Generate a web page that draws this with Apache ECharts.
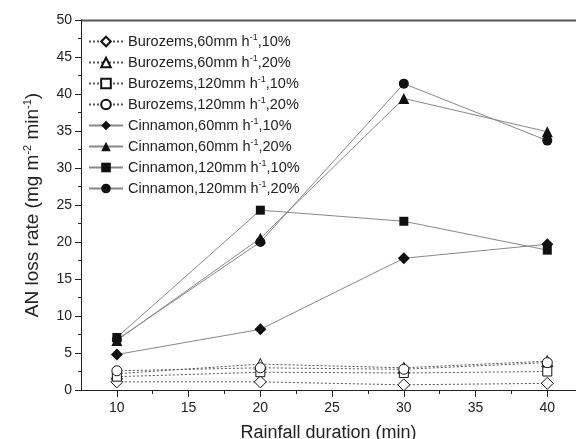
<!DOCTYPE html>
<html>
<head>
<meta charset="utf-8">
<script src="https://cdn.jsdelivr.net/npm/echarts@6/dist/echarts.min.js"></script>
<style>
  html, body { margin: 0; padding: 0; background: #fff; }
  #chart { width: 576px; height: 439px; }
</style>
</head>
<body>
<div id="chart"></div>
<script>
// rainfall duration (min)
const durations = [10, 20, 30, 40];
const majorTicks = [10, 15, 20, 25, 30, 35, 40];
const minorTicks = [12.5, 17.5, 22.5, 27.5, 32.5, 37.5];

// AN loss rate, mg m-2 min-1
const buro60_10 = [1.1, 1.1, 0.7, 0.9];
const buro60_20 = [2.2, 3.5, 3.0, 3.9];
const buro120_10 = [1.8, 2.4, 2.3, 2.5];
const buro120_20 = [2.6, 3.0, 2.8, 3.7];
const cinn60_10 = [4.8, 8.2, 17.8, 19.7];
const cinn60_20 = [6.7, 20.5, 39.4, 34.9];
const cinn120_10 = [7.1, 24.3, 22.8, 18.9];
const cinn120_20 = [6.8, 20.0, 41.4, 33.7];

const soils = ['Burozems', 'Burozems', 'Burozems', 'Burozems', 'Cinnamon', 'Cinnamon', 'Cinnamon', 'Cinnamon'];
const rates = ['60', '60', '120', '120', '60', '60', '120', '120'];
const covers = ['10%', '20%', '10%', '20%', '10%', '20%', '10%', '20%'];
const symbols = ['diamond', 'triangle', 'rect', 'circle', 'diamond', 'triangle', 'rect', 'circle'];
const values = [buro60_10, buro60_20, buro120_10, buro120_20, cinn60_10, cinn60_20, cinn120_10, cinn120_20];

const font = 'Liberation Sans, Arial, sans-serif';
const symSize = { diamond: 12, triangle: 11, rect: 9, circle: 10 };

function seriesName(i) {
  return soils[i] + ',' + rates[i] + 'mm h-1,' + covers[i];
}

const series = values.map(function (vals, i) {
  const open = i < 4;
  return {
    name: seriesName(i),
    type: 'line',
    data: durations.map(function (d, k) { return [d, vals[k]]; }),
    symbol: symbols[i],
    symbolSize: symSize[symbols[i]],
    showAllSymbol: true,
    z: open ? 3 : 2,
    lineStyle: {
      color: open ? '#555' : '#888',
      width: 1,
      type: open ? [2, 2] : 'solid'
    },
    itemStyle: {
      color: open ? '#fff' : '#111',
      borderColor: '#111',
      borderWidth: open ? 1 : 0
    },
    emphasis: { disabled: true },
    animation: false
  };
});

const chart = echarts.init(document.getElementById('chart'));
chart.setOption({
  backgroundColor: '#fff',
  textStyle: { fontFamily: font },
  grid: { left: 81, right: 0, top: 20, bottom: 49, outerBoundsMode: 'none', containLabel: false },
  legend: {
    orient: 'vertical',
    left: 83,
    top: 28,
    itemWidth: 34,
    itemHeight: 12,
    itemGap: 5,
    data: series.map(function (s) { return s.name; }),
    formatter: function (name) {
      const parts = name.split('h-1');
      return '{t|' + parts[0] + 'h}{s|-1}{t|' + parts[1] + '}';
    },
    textStyle: {
      color: '#222',
      rich: {
        t: { fontSize: 14.5, fontFamily: font, color: '#222' },
        s: { fontSize: 9, fontFamily: font, color: '#222', padding: [0, 0, 8, 0] }
      }
    }
  },
  xAxis: [{
    type: 'value',
    min: 7.5,
    max: 42,
    name: 'Rainfall duration (min)',
    nameLocation: 'middle',
    nameGap: 34,
    nameTextStyle: { fontSize: 18, color: '#222', fontFamily: font },
    axisLine: { show: true, onZero: false, lineStyle: { color: '#222', width: 1 } },
    axisTick: {
      show: true,
      customValues: majorTicks,
      length: 7,
      lineStyle: { color: '#222' }
    },
    axisLabel: {
      fontSize: 14,
      color: '#222',
      margin: 11,
      customValues: majorTicks
    },
    splitLine: { show: false }
  }, {
    // minor ticks only, laid on the bottom axis line
    type: 'value',
    position: 'top',
    min: 7.5,
    max: 42,
    axisLine: { show: false, onZero: true },
    axisTick: {
      show: true,
      inside: true,
      customValues: minorTicks,
      length: 4,
      lineStyle: { color: '#222', width: 1 }
    },
    axisLabel: { show: false },
    splitLine: { show: false }
  }],
  yAxis: {
    type: 'value',
    min: 0,
    max: 50,
    interval: 5,
    name: 'AN loss rate (mg m{s|-2} min{s|-1})',
    nameLocation: 'middle',
    nameGap: 37,
    nameTextStyle: {
      fontSize: 19,
      color: '#222',
      fontFamily: font,
      rich: {
        s: { fontSize: 11, fontFamily: font, color: '#222', padding: [0, 0, 11, 0] }
      }
    },
    axisLine: { show: true, lineStyle: { color: '#222', width: 1 } },
    axisTick: { show: true, length: 6, lineStyle: { color: '#222' } },
    minorTick: { show: true, splitNumber: 2, length: 3, lineStyle: { color: '#222' } },
    axisLabel: { fontSize: 14, color: '#222', margin: 9 },
    splitLine: { show: false }
  },
  graphic: [{
    type: 'line',
    shape: { x1: 81, y1: 20.5, x2: 576, y2: 20.5 },
    style: { stroke: '#555', lineWidth: 2 },
    silent: true
  }],
  series: series
});
window.addEventListener('resize', function () { chart.resize(); });
</script>
</body>
</html>
